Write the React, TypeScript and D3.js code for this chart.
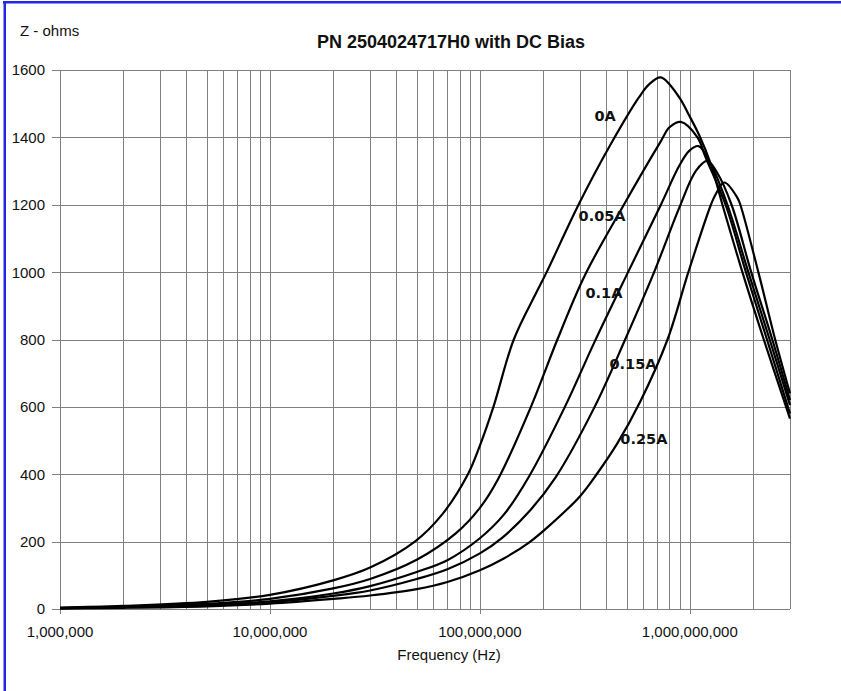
import * as d3 from "d3";

// impedance readings (ohms) against frequency (Hz), one pair of arrays per bias current
const freq0A = [1e6, 2e6, 5e6, 1e7, 2e7, 3e7, 4.9e7, 6.6e7, 8.77e7, 1e8, 1.16e8, 1.45e8, 1.86e8, 2.08e8, 2.95e8, 4.16e8, 5.74e8, 6.41e8, 7.28e8, 8.9e8, 9.93e8, 1.107e9, 1.26e9, 1.43e9, 1.78e9, 2.25e9, 3e9];
const ohms0A = [4, 9, 21, 42, 85, 123, 200, 280, 400, 485, 600, 800, 940, 1000, 1200, 1375, 1520, 1558, 1578, 1519, 1465, 1407, 1320, 1200, 1000, 800, 565];

const freq005A = [1e6, 2e6, 5e6, 1e7, 2e7, 3e7, 5e7, 7.7e7, 1e8, 1.22e8, 1.75e8, 2.34e8, 3.16e8, 4.85e8, 7.28e8, 8e8, 9.06e8, 1.087e9, 1.19e9, 1.48e9, 1.85e9, 2.33e9, 3e9];
const ohms005A = [3, 7, 15, 30, 61, 89, 146, 225, 300, 385, 600, 800, 990, 1200, 1389, 1430, 1446, 1400, 1340, 1200, 1000, 800, 580];

const freq01A = [1e6, 2e6, 5e6, 1e7, 2e7, 3e7, 5e7, 7e7, 1e8, 1.3e8, 1.72e8, 2.54e8, 3.5e8, 5.08e8, 7.28e8, 8.89e8, 9.93e8, 1.1e9, 1.26e9, 1.51e9, 1.9e9, 2.4e9, 3e9];
const ohms01A = [2.5, 6, 12, 23, 46, 68, 110, 145, 210, 280, 395, 600, 790, 1000, 1200, 1315, 1360, 1374, 1320, 1200, 1000, 800, 605];

const freq015A = [1e6, 2e6, 5e6, 1e7, 2e7, 3e7, 5e7, 7e7, 1e8, 1.28e8, 1.72e8, 2.29e8, 3.52e8, 4.92e8, 6.76e8, 8.89e8, 1.067e9, 1.21e9, 1.35e9, 1.58e9, 1.96e9, 2.47e9, 3e9];
const ohms015A = [2, 5, 10, 20, 39, 55, 89, 118, 165, 212, 290, 390, 600, 800, 1000, 1190, 1300, 1330, 1295, 1200, 1000, 800, 620];

const freq025A = [1e6, 2e6, 5e6, 1e7, 2e7, 3e7, 5e7, 7e7, 1e8, 1.3e8, 1.72e8, 2.13e8, 3e8, 3.6e8, 4.5e8, 5.8e8, 7.83e8, 9.84e8, 1.26e9, 1.33e9, 1.46e9, 1.68e9, 1.74e9, 2.12e9, 2.55e9, 3e9];
const ohms025A = [2, 3.5, 8, 16, 30, 40, 59, 80, 115, 150, 198, 246, 335, 400, 490, 615, 800, 1000, 1200, 1232, 1266, 1222, 1200, 1000, 800, 640];

const seriesNames = ["0A", "0.05A", "0.1A", "0.15A", "0.25A"];
const seriesFreqs = [freq0A, freq005A, freq01A, freq015A, freq025A];
const seriesOhms = [ohms0A, ohms005A, ohms01A, ohms015A, ohms025A];

// where each series name is written, in data units
const labelFreqs = [3.95e8, 3.82e8, 3.9e8, 5.36e8, 6.04e8];
const labelOhms = [1463, 1166, 938, 727, 504];

const yTicks = [0, 200, 400, 600, 800, 1000, 1200, 1400, 1600];
const xDecades = [1e6, 1e7, 1e8, 1e9];
const xMinor = [2, 3, 4, 5, 6, 7, 8, 9];

const W = 841;
const H = 691;
const margin = { top: 70, right: 51, bottom: 82, left: 60 };
const gridColor = "#808080";
const font = "'Liberation Sans', Arial, sans-serif";

const App = () => {
  const x = d3.scaleLog().domain([1e6, 3e9]).range([margin.left, W - margin.right]);
  const y = d3.scaleLinear().domain([0, 1600]).range([H - margin.bottom, margin.top]);
  const px = (v: number) => Math.round(v) + 0.5;

  const gridFreqs: number[] = [];
  for (const d of xDecades) {
    gridFreqs.push(d);
    for (const k of xMinor) {
      if (k * d < 3e9) gridFreqs.push(k * d);
    }
  }
  gridFreqs.push(3e9);

  const line = d3
    .line<[number, number]>()
    .x((p) => x(p[0]))
    .y((p) => y(p[1]))
    .curve(d3.curveCatmullRom.alpha(0.5));

  const fmt = d3.format(",");
  const [y0, y1] = y.range();
  const [x0, x1] = x.range();

  return (
    <svg
      width={W}
      height={H}
      style={{ position: "absolute", left: 0, top: 0, background: "#fff" }}
    >
      <rect x={0} y={0} width={W} height={H} fill="#fff" />
      {/* selection frame, top and left only */}
      <rect x={3} y={1} width={W - 3} height={2.5} fill="#2626e6" />
      <rect x={3.5} y={1} width={2.5} height={H} fill="#2626e6" />

      <text x={20} y={36} fontFamily={font} fontSize={15} fill="#111">
        Z - ohms
      </text>
      <text
        x={451}
        y={48}
        textAnchor="middle"
        fontFamily={font}
        fontSize={18}
        fontWeight="bold"
        fill="#111"
      >
        PN 2504024717H0 with DC Bias
      </text>

      <g shapeRendering="crispEdges" stroke={gridColor} strokeWidth={1}>
        {yTicks.map((t) => (
          <line key={`h${t}`} x1={x0 - 8} x2={x1} y1={px(y(t))} y2={px(y(t))} />
        ))}
        {gridFreqs.map((f) => (
          <line
            key={`v${f}`}
            x1={px(x(f))}
            x2={px(x(f))}
            y1={y1}
            y2={xDecades.includes(f) ? y0 + 5 : y0}
          />
        ))}
      </g>

      <g fontFamily={font} fontSize={15} fill="#111">
        {yTicks.map((t) => (
          <text key={`yl${t}`} x={45} y={y(t)} dy="0.36em" textAnchor="end">
            {t}
          </text>
        ))}
        {xDecades.map((d) => (
          <text key={`xl${d}`} x={x(d)} y={637} textAnchor="middle">
            {fmt(d)}
          </text>
        ))}
        <text x={449} y={660} textAnchor="middle">
          Frequency (Hz)
        </text>
      </g>

      <g fill="none" stroke="#000" strokeWidth={2.2} strokeLinejoin="round">
        {seriesNames.map((name, i) => (
          <path
            key={name}
            d={line(seriesFreqs[i].map((f, j) => [f, seriesOhms[i][j]] as [number, number])) ?? ""}
          />
        ))}
      </g>

      <g fontFamily="'DejaVu Sans', sans-serif" fontSize={14.5} fontWeight="bold" fill="#111">
        {seriesNames.map((name, i) => (
          <text
            key={`lab${name}`}
            x={x(labelFreqs[i])}
            y={y(labelOhms[i])}
            dy="0.36em"
            textAnchor="middle"
          >
            {name}
          </text>
        ))}
      </g>
    </svg>
  );
};

export default App;
